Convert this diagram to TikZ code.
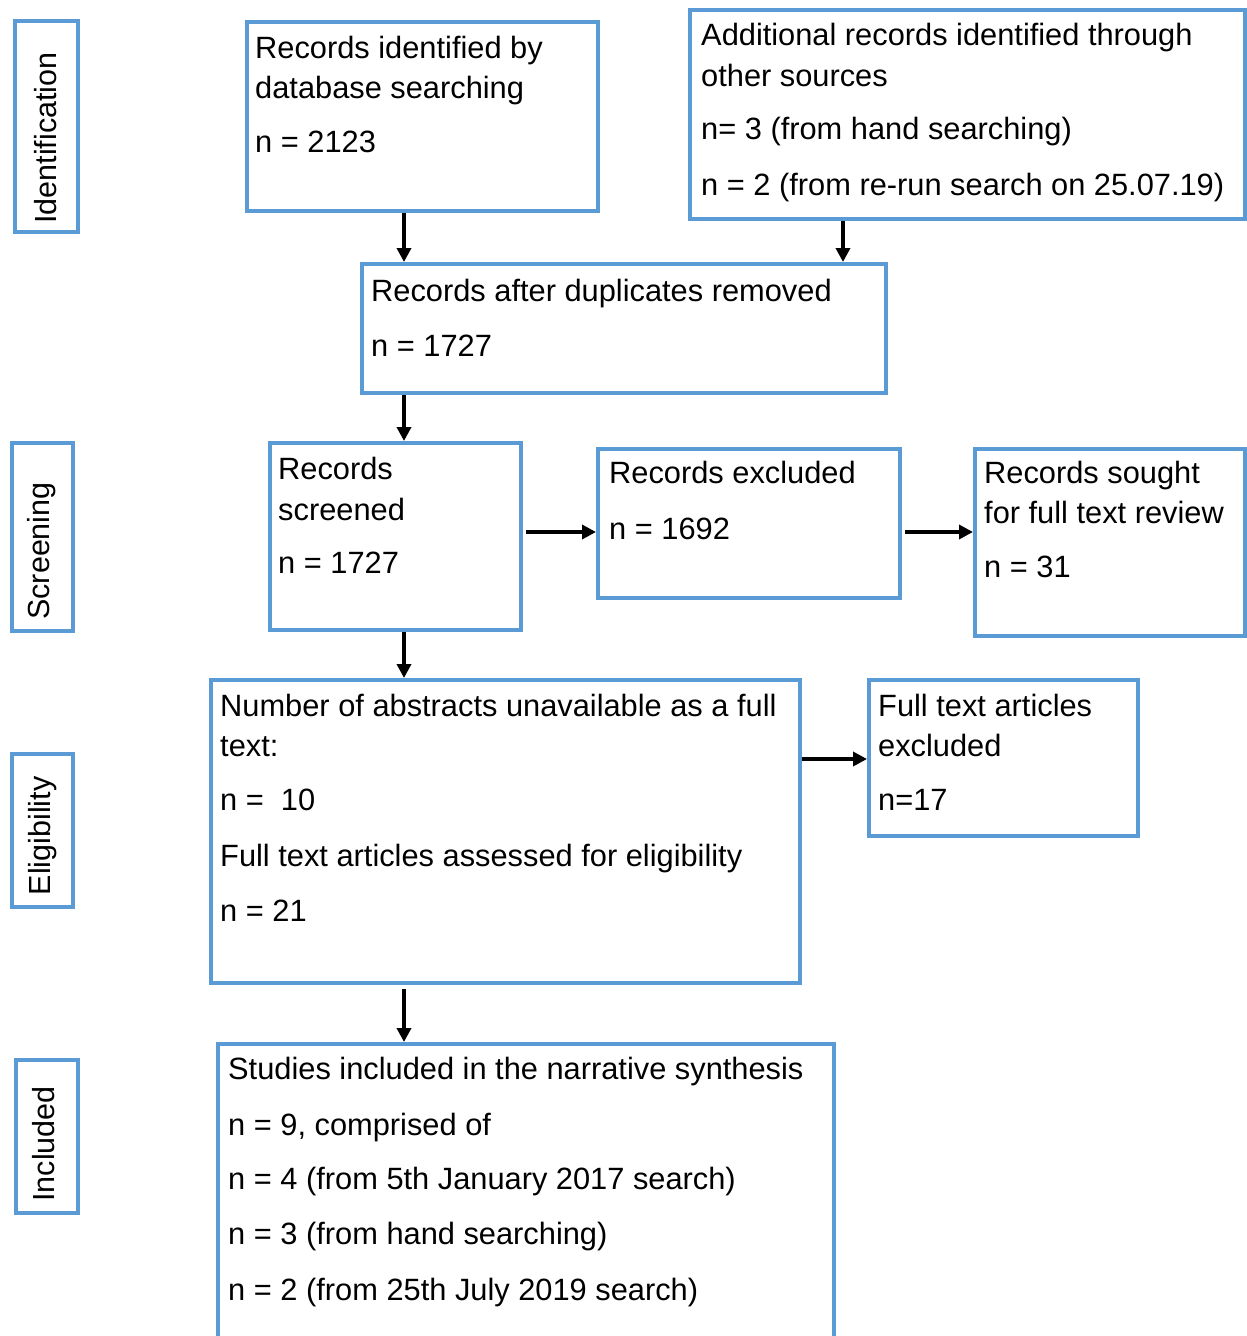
\documentclass[tikz,border=0pt]{standalone}
\usepackage{fontspec}
\setmainfont{Liberation Sans}
\usetikzlibrary{arrows.meta}
\definecolor{boxblue}{HTML}{5B9BD5}
\newcommand{\flowbox}[5]{\node[box,anchor=north west,minimum width={#4-#2},minimum height={#5-#3}] (#1) at (#2-2,#3-2) {};}
\begin{document}
\begin{tikzpicture}[x=1pt,y=-1pt,
  box/.style={draw=boxblue,line width=4pt,inner sep=0pt,fill=none},
  txt/.style={anchor=base west,inner sep=0pt,font=\fontsize{30.8}{36}\selectfont},
  sidetxt/.style={anchor=base,rotate=90,inner sep=0pt,font=\fontsize{30.5}{36}\selectfont},
  arr/.style={-{Triangle[length=14pt,width=14pt]},line width=4pt,black}]
\useasboundingbox (0,0) rectangle (1247,1336);
% side boxes
\flowbox{ID}{15}{21}{78}{232}
\flowbox{SC}{12}{443}{73}{631}
\flowbox{EL}{12}{754}{73}{907}
\flowbox{IN}{16}{1060}{78}{1213}
\node[sidetxt] (IDt) at (56,138) {Identification};
\node[sidetxt] (SCt) at (49,551) {Screening};
\node[sidetxt] (ELt) at (50,836) {Eligibility};
\node[sidetxt] (INt) at (54,1144) {Included};
% main boxes
\flowbox{A}{247}{22}{598}{211}
\flowbox{B}{690}{10}{1245}{219}
\flowbox{C}{362}{264}{886}{393}
\flowbox{D}{270}{443}{521}{630}
\flowbox{E}{598}{449}{900}{598}
\flowbox{F}{975}{449}{1245}{636}
\flowbox{G}{211}{680}{800}{983}
\flowbox{H}{869}{680}{1138}{836}
\flowbox{I}{218}{1044}{834}{1345}
% texts
\node[txt] (A1) at (255,58) {Records identified by};
\node[txt] (A2) at (255,98) {database searching};
\node[txt] (A3) at (255,152) {n = 2123};
\node[txt] (B1) at (701,45) {Additional records identified through};
\node[txt] (B2) at (701,86) {other sources};
\node[txt] (B3) at (701,139) {n= 3 (from hand searching)};
\node[txt] (B4) at (701,195) {n = 2 (from re-run search on 25.07.19)};
\node[txt] (C1) at (371,301) {Records after duplicates removed};
\node[txt] (C2) at (371,356) {n = 1727};
\node[txt] (D1) at (278,479) {Records};
\node[txt] (D2) at (278,520) {screened};
\node[txt] (D3) at (278,573) {n = 1727};
\node[txt] (E1) at (609,483) {Records excluded};
\node[txt] (E2) at (609,539) {n = 1692};
\node[txt] (F1) at (984,483) {Records sought};
\node[txt] (F2) at (984,523) {for full text review};
\node[txt] (F3) at (984,577) {n = 31};
\node[txt] (G1) at (220,716) {Number of abstracts unavailable as a full};
\node[txt] (G2) at (220,756) {text:};
\node[txt] (G3) at (220,810) {n = \ 10};
\node[txt] (G4) at (220,866) {Full text articles assessed for eligibility};
\node[txt] (G5) at (220,921) {n = 21};
\node[txt] (H1) at (878,716) {Full text articles};
\node[txt] (H2) at (878,756) {excluded};
\node[txt] (H3) at (878,810) {n=17};
\node[txt] (I1) at (228,1079) {Studies included in the narrative synthesis};
\node[txt] (I2) at (228,1135) {n = 9, comprised of};
\node[txt] (I3) at (228,1189) {n = 4 (from 5th January 2017 search)};
\node[txt] (I4) at (228,1244) {n = 3 (from hand searching)};
\node[txt] (I5) at (228,1300) {n = 2 (from 25th July 2019 search)};
% connector guides
\coordinate (xa) at (404,0);
\coordinate (xb) at (843,0);
\coordinate (ya) at (0,532);
\coordinate (yb) at (0,759);
% connectors
\draw[arr] (A.south -| xa) -- (C.north -| xa);
\draw[arr] (B.south -| xb) -- (C.north -| xb);
\draw[arr] (C.south -| xa) -- (D.north -| xa);
\draw[arr] ([xshift=3pt]D.east |- ya) -- (E.west |- ya);
\draw[arr] ([xshift=3pt]E.east |- ya) -- (F.west |- ya);
\draw[arr] (D.south -| xa) -- (G.north -| xa);
\draw[arr] (G.east |- yb) -- (H.west |- yb);
\draw[arr] ([yshift=-4pt]G.south -| xa) -- (I.north -| xa);
\end{tikzpicture}
\end{document}
